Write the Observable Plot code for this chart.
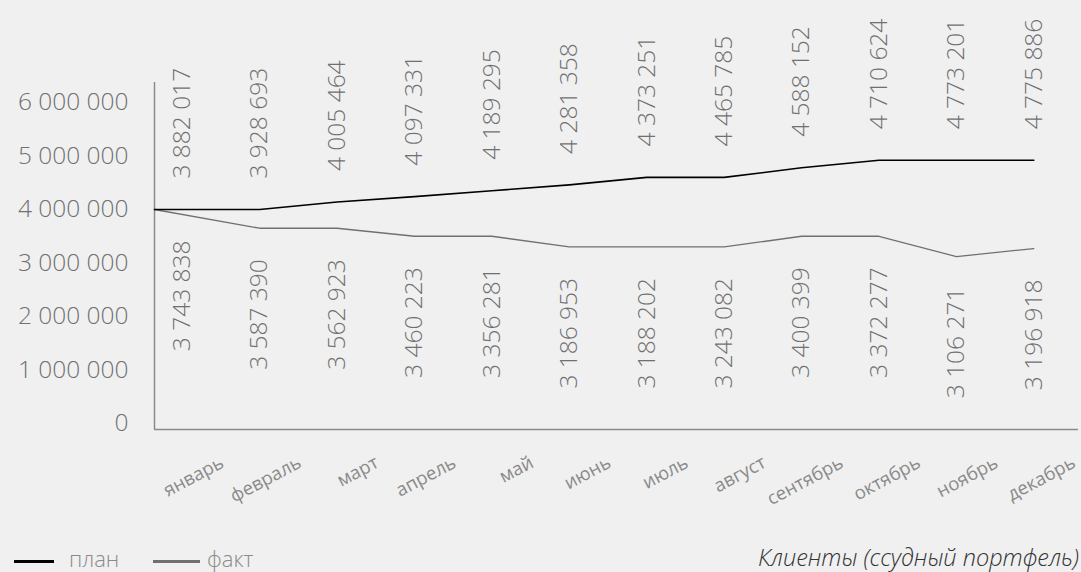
<!DOCTYPE html>
<html>
<head>
<meta charset="utf-8">
<script src="https://cdn.jsdelivr.net/npm/d3@7"></script>
<script src="https://cdn.jsdelivr.net/npm/@observablehq/plot@0.6"></script>
<style>
  html, body { margin: 0; padding: 0; background: #f0f0f0; }
  body { width: 1081px; height: 572px; overflow: hidden; font-family: "Open Sans", sans-serif; }
  #chart svg { display: block; }
  #legend { position: relative; width: 1081px; height: 47px; }
  #legend .sw { position: absolute; height: 3px; }
  #legend .lt { position: absolute; font-size: 22px; line-height: 22px; font-weight: 300; color: #8a8a8a; }
  #legend .cap { position: absolute; right: 2px; font-size: 23.5px; line-height: 24px; font-style: italic; font-weight: 300; color: #333; }
</style>
</head>
<body>
<div id="chart"></div>
<div id="legend"></div>
<script>
// ---- data ----
const months = ["январь", "февраль", "март", "апрель", "май", "июнь", "июль", "август", "сентябрь", "октябрь", "ноябрь", "декабрь"];
const planLabels = [3882017, 3928693, 4005464, 4097331, 4189295, 4281358, 4373251, 4465785, 4588152, 4710624, 4773201, 4775886];
const factLabels = [3743838, 3587390, 3562923, 3460223, 3356281, 3186953, 3188202, 3243082, 3400399, 3372277, 3106271, 3196918];
// line values as drawn in the picture
const planLine = [4000000, 4000000, 4140000, 4240000, 4350000, 4460000, 4600000, 4600000, 4780000, 4920000, 4920000, 4920000];
const factLine = [4000000, 3650000, 3650000, 3500000, 3500000, 3300000, 3300000, 3300000, 3500000, 3500000, 3120000, 3270000];
const yTicks = [0, 1000000, 2000000, 3000000, 4000000, 5000000, 6000000];
const seriesNames = ["план", "факт"];
const seriesColors = ["#000000", "#707070"];
const caption = "Клиенты (ссудный портфель)";

// ---- chart ----
const fmt = d3.formatLocale({decimal: ",", thousands: " ", grouping: [3], currency: ["", ""]}).format(",d");
const xDomain = [-0.358, 11.577];
const yDomain = [-112000, 6374000];
const textGrey = "#707070";

const chart = Plot.plot({
  width: 1081,
  height: 525,
  marginLeft: 154,
  marginRight: 3,
  marginTop: 82,
  marginBottom: 96,
  style: {background: "#f0f0f0", fontFamily: "'Open Sans', sans-serif", fontWeight: 300, overflow: "visible"},
  x: {type: "linear", domain: xDomain, label: null},
  y: {domain: yDomain, label: null},
  marks: [
    Plot.ruleX([xDomain[0]], {stroke: "#8a8a8a", strokeWidth: 1.5}),
    Plot.ruleY([yDomain[0]], {stroke: "#8a8a8a", strokeWidth: 1.5}),
    Plot.axisY({ticks: yTicks, tickFormat: fmt, tickSize: 0, tickPadding: 26, fontSize: 24.5, fill: textGrey, label: null}),
    Plot.axisX({ticks: d3.range(months.length), tickFormat: i => months[i], tickSize: 0, tickPadding: 37,
      tickRotate: -28, textAnchor: "end", lineAnchor: "bottom", dx: 43, fontSize: 18.5, fontWeight: 400, fill: "#8a8a8a", label: null}),
    Plot.line(factLine, {x: (d, i) => i === 0 ? xDomain[0] : i, y: d => d, stroke: seriesColors[1], strokeWidth: 1.3}),
    Plot.line(planLine, {x: (d, i) => i === 0 ? xDomain[0] : i, y: d => d, stroke: seriesColors[0], strokeWidth: 1.6}),
    Plot.text(planLabels, {x: (d, i) => i, y: (d, i) => planLine[i], text: d => fmt(d), rotate: -90,
      textAnchor: "start", dy: -31, fontSize: 24.5, fill: textGrey}),
    Plot.text(factLabels, {x: (d, i) => i, y: (d, i) => factLine[i], text: d => fmt(d), rotate: -90,
      textAnchor: "end", dy: 31, fontSize: 24.5, fill: textGrey})
  ]
});
document.getElementById("chart").appendChild(chart);

// ---- legend ----
const legend = document.getElementById("legend");
const swLeft = [14, 153], swWidth = [40, 47], txLeft = [69, 207];
seriesNames.forEach((name, i) => {
  const sw = document.createElement("span");
  sw.className = "sw";
  sw.style.left = swLeft[i] + "px";
  sw.style.top = "35px";
  sw.style.width = swWidth[i] + "px";
  sw.style.background = seriesColors[i];
  legend.appendChild(sw);
  const t = document.createElement("span");
  t.className = "lt";
  t.style.left = txLeft[i] + "px";
  t.style.top = "22px";
  t.textContent = name;
  legend.appendChild(t);
});
const cap = document.createElement("span");
cap.className = "cap";
cap.style.top = "20px";
cap.textContent = caption;
legend.appendChild(cap);
</script>
</body>
</html>
